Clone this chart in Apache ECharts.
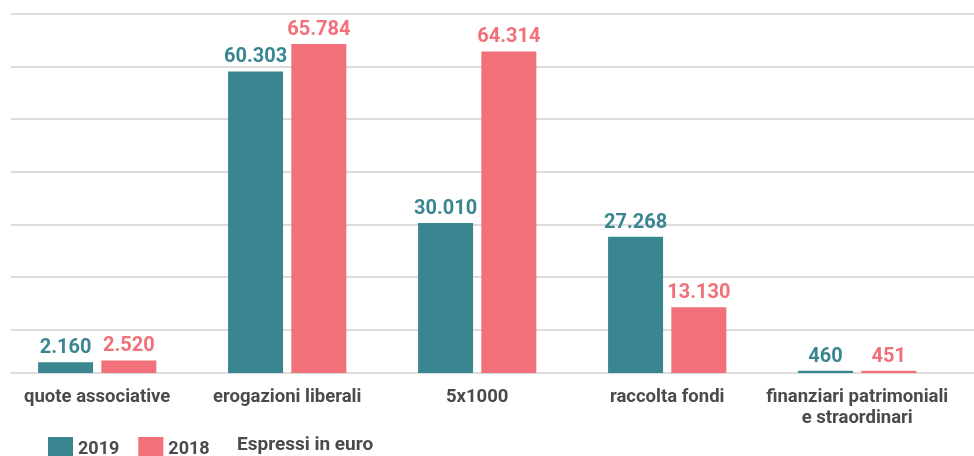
<!DOCTYPE html>
<html>
<head>
<meta charset="utf-8">
<script src="https://cdn.jsdelivr.net/npm/echarts@6/dist/echarts.min.js"></script>
<style>
  html, body { margin: 0; padding: 0; background: #fff; }
  #chart { width: 974px; height: 456px; }
</style>
</head>
<body>
<div id="chart"></div>
<script>
  // voci di entrata
  var categories = ['quote associative', 'erogazioni liberali', '5x1000', 'raccolta fondi', 'finanziari patrimoniali\ne straordinari'];
  var values2019 = [2160, 60303, 30010, 27268, 460];
  var values2018 = [2520, 65784, 64314, 13130, 451];
  var seriesNames = ['2019', '2018'];

  var teal = '#3a8690';
  var pink = '#f27079';
  var grey = '#4a4a4a';
  var font = 'Roboto';

  // scala comune ai due grid
  var yMin = -1840, yMax = 71800, yStep = 10520;

  // separatore delle migliaia all'italiana
  function fmt(v) {
    return String(v).replace(/\B(?=(\d{3})+(?!\d))/g, '.');
  }

  var myChart = echarts.init(document.getElementById('chart'));

  var option = {
    backgroundColor: '#fff',
    animation: false,
    grid: [
      { left: 11, right: 0, top: 14, bottom: 73.8 },      // solo linee orizzontali
      { left: 2.2, right: 21.8, top: 14, bottom: 73.8 }   // barre
    ],
    legend: {
      data: seriesNames,
      left: 43,
      top: 432,
      itemWidth: 25,
      itemHeight: 25,
      itemGap: 19,
      icon: 'rect',
      textStyle: { color: grey, fontFamily: font, fontWeight: 'bold', fontSize: 18 }
    },
    graphic: [{
      type: 'text',
      left: 237,
      top: 436,
      style: { text: 'Espressi in euro', fill: grey, font: 'bold 19px Roboto' }
    }],
    xAxis: [
      {
        type: 'value', gridIndex: 0, min: 0, max: 1,
        axisLine: { show: true, onZero: true, lineStyle: { color: '#dcdcdc', width: 2 } },
        axisTick: { show: false }, axisLabel: { show: false }, splitLine: { show: false }
      },
      {
        type: 'category', gridIndex: 1, data: categories,
        axisLine: { show: false, onZero: true },
        axisTick: { show: false },
        axisLabel: {
          color: grey, fontFamily: font, fontWeight: 'bold', fontSize: 18.5,
          margin: 5, lineHeight: 21, interval: 0
        }
      }
    ],
    yAxis: [
      {
        type: 'value', gridIndex: 0, min: yMin, max: yMax, interval: yStep,
        axisLine: { show: false }, axisTick: { show: false }, axisLabel: { show: false },
        splitLine: { show: true, showMinLine: false, lineStyle: { color: '#dcdcdc', width: 2 } }
      },
      {
        type: 'value', gridIndex: 1, min: yMin, max: yMax, interval: yStep,
        axisLine: { show: false }, axisTick: { show: false }, axisLabel: { show: false },
        splitLine: { show: false }
      }
    ],
    series: [
      {
        name: seriesNames[0], type: 'bar', xAxisIndex: 1, yAxisIndex: 1,
        data: values2019, barWidth: 55, barGap: '15%',
        itemStyle: { color: teal },
        label: {
          show: true, position: 'top', distance: 4, color: teal,
          fontFamily: font, fontWeight: 'bold', fontSize: 20,
          formatter: function (p) { return fmt(p.value); }
        }
      },
      {
        name: seriesNames[1], type: 'bar', xAxisIndex: 1, yAxisIndex: 1,
        data: values2018, barWidth: 55, barGap: '15%',
        itemStyle: { color: pink },
        label: {
          show: true, position: 'top', distance: 4, color: pink,
          fontFamily: font, fontWeight: 'bold', fontSize: 20,
          formatter: function (p) { return fmt(p.value); }
        }
      }
    ]
  };

  myChart.setOption(option);
</script>
</body>
</html>
